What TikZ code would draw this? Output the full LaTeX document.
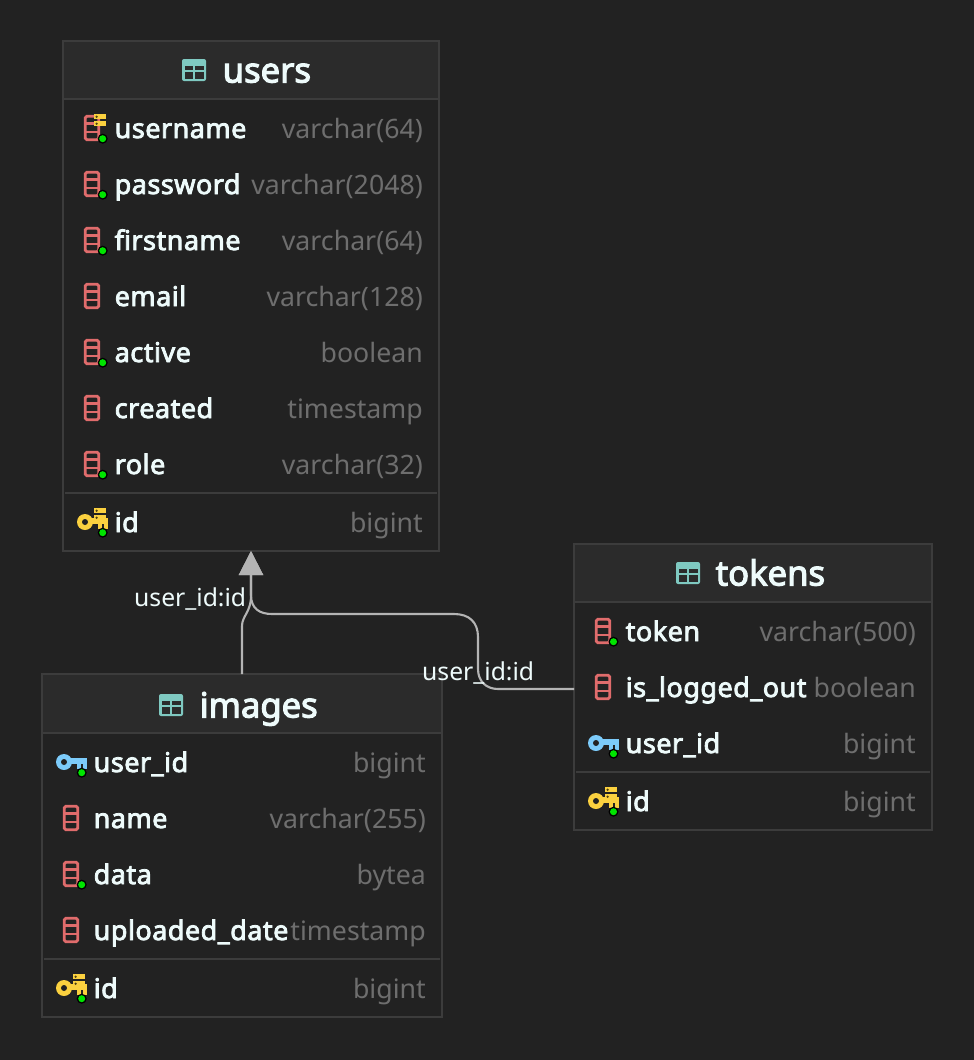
\documentclass[tikz,border=0pt]{standalone}
\usepackage{fontspec}
\setmainfont{Noto Sans}
\newfontfamily\heavyf{Noto Sans}[FakeBold=3,LetterSpace=1.8]
\newfontfamily\heavyh{Noto Sans}[FakeBold=3.2]
\usetikzlibrary{arrows.meta}
\definecolor{bgc}{HTML}{222222}
\definecolor{headc}{HTML}{2B2B2B}
\definecolor{bordc}{HTML}{3C3C3C}
\definecolor{txtc}{HTML}{EEFBFB}
\definecolor{typec}{HTML}{6E6E6E}
\definecolor{redc}{HTML}{E06C6C}
\definecolor{goldc}{HTML}{FBD13F}
\definecolor{bluec}{HTML}{7CCBFA}
\definecolor{tealc}{HTML}{7FC9C1}
\definecolor{linec}{HTML}{B4B4B4}
\tikzset{
 x=1pt,y=-1pt,
 tablebox/.style={draw=bordc,line width=1.4pt,fill=bgc,rectangle,inner sep=0pt,outer sep=0pt,anchor=north west},
 colname/.style={text=txtc,anchor=base west,inner sep=0pt,yshift=-1pt,xshift=-0.5pt,font=\fontsize{27}{30}\heavyf},
 coltype/.style={text=typec,anchor=base east,inner sep=0pt,yshift=-1pt,font=\fontsize{26.7}{30}\selectfont},
 headname/.style={text=txtc,anchor=base west,inner sep=0pt,yshift=-1.5pt,xshift=-0.5pt,font=\fontsize{34.6}{38}\heavyh},
 linklabel/.style={text=txtc,anchor=base west,inner sep=0pt,yshift=-1pt,font=\fontsize{24.7}{28}\selectfont},
 link/.style={draw=linec,line width=2.1pt,-{Triangle[width=24pt,length=24pt,fill=linec]}},
}
% table frame: name, x, y, w, h, header bottom, separator y
\newcommand{\tableframe}[7]{%
 \node[tablebox,minimum width=#4pt,minimum height=#5pt] (#1) at (#2,#3) {};
 \fill[headc] (#2+1,#3+1) rectangle (#2+#4-1,#6-1);
 \draw[bordc,line width=1.6pt] (#2,#6) -- (#2+#4,#6);
 \draw[bordc,line width=1.6pt] (#2+2,#7) -- (#2+#4-2,#7);
}
\newcommand{\tblicon}[2]{% left, top
 \fill[tealc,rounded corners=2pt] (#1,#2) rectangle (#1+24,#2+22);
 \fill[headc] (#1+2.5,#2+6.5) rectangle (#1+10.8,#2+11);
 \fill[headc] (#1+13.2,#2+6.5) rectangle (#1+21.5,#2+11);
 \fill[headc] (#1+2.5,#2+13.2) rectangle (#1+10.8,#2+19.5);
 \fill[headc] (#1+13.2,#2+13.2) rectangle (#1+21.5,#2+19.5);
}
\newcommand{\colicon}[2]{% left, row centre
 \draw[redc,line width=2.8pt,rounded corners=1.5pt] (#1+1.3,#2-11.7) rectangle (#1+14.7,#2+11.7);
 \draw[redc,line width=2.4pt] (#1+1.3,#2-4.5) -- (#1+14.7,#2-4.5) (#1+1.3,#2+3.7) -- (#1+14.7,#2+3.7);
}
\newcommand{\greendot}[2]{%
 \fill[black] (#1,#2) circle (5);
 \fill[green!90!black] (#1,#2) circle (3.5);
}
\newcommand{\stackicon}[2]{% left, top
 \fill[goldc] (#1,#2) rectangle (#1+12,#2+5.4);
 \fill[goldc] (#1,#2+7) rectangle (#1+12,#2+12.4);
 \fill[black!70!goldc] (#1+2.6,#2+2.7) circle (1.3) (#1+2.6,#2+9.7) circle (1.3);
}
\newcommand{\keyshape}[3]{% colour, ring x, ring y
 \fill[#1] (#2,#3-4) rectangle (#2+22.5,#3+2);
 \fill[#1] (#2+13,#3) rectangle (#2+17,#3+7);
 \fill[#1] (#2+18.5,#3) rectangle (#2+22.5,#3+7);
 \fill[#1] (#2,#3) circle (8);
 \fill[bgc] (#2,#3) circle (3);
}
\newcommand{\colrow}[6]{% id, x name, baseline, name, right x, type
 \node[colname] (#1n) at (#2,#3) {#4};
 \node[coltype] (#1t) at (#5,#3) {#6};
}
\begin{document}
\begin{tikzpicture}
\useasboundingbox[fill=bgc] (0,0) rectangle (974,1060);

% users
\tableframe{users}{63}{41}{376}{510}{99}{493}
\tblicon{182}{59}
\node[headname] (usersh) at (223,81) {users};
\colicon{84}{128}\stackicon{94}{114}\greendot{102.7}{138.7}
\colrow{u1}{115}{137}{username}{423}{varchar(64)}
\colicon{84}{184}\greendot{102.7}{194.7}
\colrow{u2}{115}{193}{password}{423}{varchar(2048)}
\colicon{84}{240}\greendot{102.7}{250.7}
\colrow{u3}{115}{249}{firstname}{423}{varchar(64)}
\colicon{84}{296}
\colrow{u4}{115}{305}{email}{423}{varchar(128)}
\colicon{84}{352}\greendot{102.7}{362.7}
\colrow{u5}{115}{361}{active}{423}{boolean}
\colicon{84}{408}
\colrow{u6}{115}{417}{created}{423}{timestamp}
\colicon{84}{464}\greendot{102.7}{474.7}
\colrow{u7}{115}{473}{role}{423}{varchar(32)}
\keyshape{goldc}{85}{522}\stackicon{94}{508}\greendot{102.7}{532.7}
\colrow{u8}{115}{531}{id}{423}{bigint}

% tokens
\tableframe{tokens}{574}{544}{358}{286}{602}{772}
\tblicon{676}{562}
\node[headname] (tokensh) at (716,584) {tokens};
\colicon{595}{631}\greendot{613.5}{641.7}
\colrow{t1}{626}{640}{token}{916}{varchar(500)}
\colicon{595}{687}
\colrow{t2}{626}{696}{is\_logged\_out}{916}{boolean}
\keyshape{bluec}{596}{743}\greendot{613.5}{753.7}
\colrow{t3}{626}{752}{user\_id}{916}{bigint}
\keyshape{goldc}{596}{801}\stackicon{605}{787}\greendot{613.5}{811.7}
\colrow{t4}{626}{810}{id}{916}{bigint}

% images
\tableframe{images}{42}{674}{400}{343}{733}{959}
\tblicon{159}{694}
\node[headname] (imagesh) at (200,716) {images};
\keyshape{bluec}{64}{762}\greendot{81.7}{772.7}
\colrow{i1}{94}{771}{user\_id}{426}{bigint}
\colicon{63}{818}
\colrow{i2}{94}{827}{name}{426}{varchar(255)}
\colicon{63}{874}\greendot{81.7}{884.7}
\colrow{i3}{94}{883}{data}{426}{bytea}
\colicon{63}{930}
\colrow{i4}{94}{939}{uploaded\_date}{426}{timestamp}
\keyshape{goldc}{64}{988}\stackicon{73}{974}\greendot{81.7}{998.7}
\colrow{i5}{94}{997}{id}{426}{bigint}

% connectors
\draw[link] ([xshift=200pt]images.north west) -- ([xshift=200pt,yshift=48pt]images.north west)
  .. controls ([xshift=200pt,yshift=58pt]images.north west) and ([xshift=209pt,yshift=62pt]images.north west)
  .. ([xshift=209pt,yshift=78pt]images.north west) -- ([xshift=188pt]users.south west);
\draw[link] ([yshift=-2pt]tokens.west) -- ([xshift=-76pt,yshift=-2pt]tokens.west)
  .. controls ([xshift=-88pt,yshift=-2pt]tokens.west) and ([xshift=-96pt,yshift=6pt]tokens.west)
  .. ([xshift=-96pt,yshift=18pt]tokens.west) -- ([xshift=-96pt,yshift=50pt]tokens.west)
  .. controls ([xshift=-96pt,yshift=65pt]tokens.west) and ([xshift=-105pt,yshift=73pt]tokens.west)
  .. ([xshift=-120pt,yshift=73pt]tokens.west) -- ([xshift=-302pt,yshift=73pt]tokens.west)
  .. controls ([xshift=-314pt,yshift=73pt]tokens.west) and ([xshift=-323pt,yshift=78pt]tokens.west)
  .. ([xshift=-323pt,yshift=92pt]tokens.west) -- ([xshift=188pt]users.south west);
\node[linklabel] (lab1) at (134,605) {user\_id:id};
\node[linklabel] (lab2) at (422,679) {user\_id:id};
\end{tikzpicture}
\end{document}
